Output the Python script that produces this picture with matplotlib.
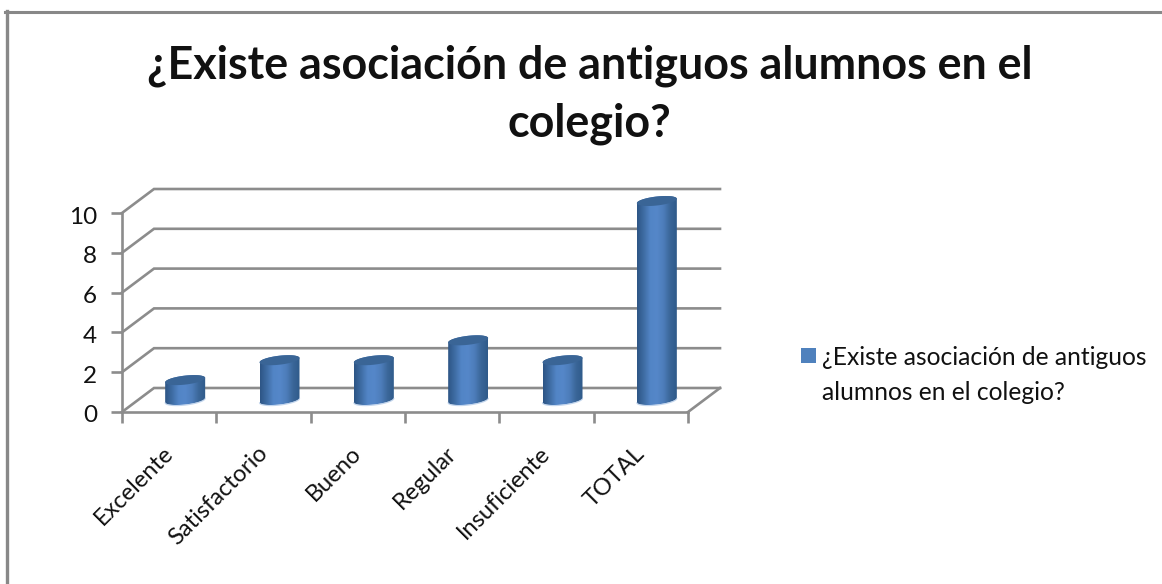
import numpy as np
import matplotlib
matplotlib.use("Agg")
import matplotlib.pyplot as plt
from matplotlib.colors import LinearSegmentedColormap
from matplotlib.patches import Polygon, Rectangle
from matplotlib.transforms import ScaledTranslation

categories = ["Excelente", "Satisfactorio", "Bueno", "Regular", "Insuficiente", "TOTAL"]
values = [1, 2, 2, 3, 2, 10]
yticks = [0, 2, 4, 6, 8, 10]
title = "¿Existe asociación de antiguos alumnos en el\ncolegio?"
legend_label = "¿Existe asociación de antiguos\nalumnos en el colegio?"

W, H = 1162, 584
GRID = "#8c8c8c"
TEXT = "#111111"
plt.rcParams["font.family"] = ["Lato", "DejaVu Sans"]

fig = plt.figure(figsize=(W / 100, H / 100), dpi=100, facecolor="white")

# front plane of the fake 3d box, in pixels; axes run on to 12 so the
# cylinder images are not cut at the top value
x0, x1, y0, y1 = 122, 688, 412, 213
px_x = (x1 - x0) / len(categories)
px_y = (y0 - y1) / 10
ax = fig.add_axes([x0 / W, 1 - y0 / H, (x1 - x0) / W, 12 * px_y / H])
ax.patch.set_visible(False)

n = len(categories)
depth_x = 32 / px_x   # depth offset in data units
depth_y = 24 / px_y

# back wall and floor
for v in yticks:
    ax.plot([0, depth_x, n + depth_x], [v, v + depth_y, v + depth_y],
            color=GRID, lw=1.9, clip_on=False, zorder=1, solid_joinstyle="miter")
ax.plot([n, n + depth_x], [0, depth_y], color=GRID, lw=1.9, clip_on=False, zorder=1)
ax.plot([0, n], [0, 0], color=GRID, lw=1.9, clip_on=False, zorder=1)
ax.plot([0, 0], [0, 10], color=GRID, lw=1.9, clip_on=False, zorder=1)

# cylinders
side_cmap = LinearSegmentedColormap.from_list(
    "side", ["#2d5585", "#3e6ca3", "#5285c6", "#5587c9", "#4d7dba", "#3a6698", "#2f5a8a"])
gradient = np.linspace(0, 1, 128).reshape(1, -1)
half_w = 20 / px_x
rad_y = 4.5 / px_y
tilt = 2.2 / px_y
t = np.linspace(0, 2 * np.pi, 80)

for i, v in enumerate(values):
    cx = i + 0.5 + depth_x / 2
    base = depth_y / 2
    ex = half_w * np.cos(t)
    ey = rad_y * np.sin(t) + tilt * np.cos(t)
    # outline: top half at the top value, bottom half at the base
    top = v + base
    mask_up = np.sin(t) >= 0
    up_x = cx + ex[mask_up]
    up_y = top + ey[mask_up]
    low_t = np.linspace(np.pi, 2 * np.pi, 40)
    low_x = cx + half_w * np.cos(low_t)
    low_y = base + rad_y * np.sin(low_t) + tilt * np.cos(low_t)
    outline = np.column_stack([np.r_[up_x, low_x], np.r_[up_y, low_y]])
    shape = Polygon(outline, closed=True, transform=ax.transData, fc="none", ec="none")
    ax.add_patch(shape)
    im = ax.imshow(gradient, cmap=side_cmap, aspect="auto", zorder=3,
                   extent=[cx - half_w, cx + half_w, base - 1, top + 1],
                   interpolation="bilinear")
    im.set_clip_path(shape)
    # light rim under the base
    ax.plot(low_x, low_y - 0.03, color="#a9c4e6", lw=0.8, alpha=0.7, zorder=3.5, clip_on=False)
    ax.fill(cx + ex, top + ey, color="#3a6596", zorder=4, clip_on=False, lw=0)

ax.set_xlim(0, n)
ax.set_ylim(0, 12)

for s in ax.spines.values():
    s.set_visible(False)
ax.set_yticks(yticks)
ax.set_xticks(np.arange(n + 1))
ax.set_xticklabels([])
ax.tick_params(axis="y", length=8, width=1.9, color=GRID, labelsize=17.5, labelcolor=TEXT, pad=10)
ax.tick_params(axis="x", length=8, width=1.9, color=GRID)
for lab in ax.get_yticklabels():
    lab.set_transform(lab.get_transform() + ScaledTranslation(0, -2 / 100, fig.dpi_scale_trans))

# category labels anchored at their upper right end
for i, name in enumerate(categories):
    ax.annotate(name, xy=(i + 0.5, 0), xytext=(-5, -22), textcoords="offset points",
                rotation=45, rotation_mode="anchor", ha="right", va="top",
                fontsize=17, color=TEXT, annotation_clip=False)

fig.text(589.5 / W, 1 - 95 / H, title, ha="center", va="center", fontsize=32.3,
         fontweight="bold", color=TEXT, linespacing=1.46)

# legend drawn by hand so the marker sits on the first line
fig.patches.append(Rectangle((800.5 / W, 1 - 363 / H), 15 / W, 15 / H,
                             transform=fig.transFigure, fc="#4f81bd", ec="none"))
fig.text(822 / W, 1 - 375 / H, legend_label, ha="left", va="center", fontsize=17.7,
         color=TEXT, linespacing=1.6)

# outer frame: only the top and left edges are visible
fig.add_artist(plt.Line2D([5 / W, 1], [1 - 12 / H] * 2, color="#888888", lw=2.2,
                          transform=fig.transFigure))
fig.add_artist(plt.Line2D([6.5 / W] * 2, [0, 1 - 11 / H], color="#888888", lw=2.4,
                          transform=fig.transFigure))

fig.savefig("out.png", dpi=100, facecolor="white")
